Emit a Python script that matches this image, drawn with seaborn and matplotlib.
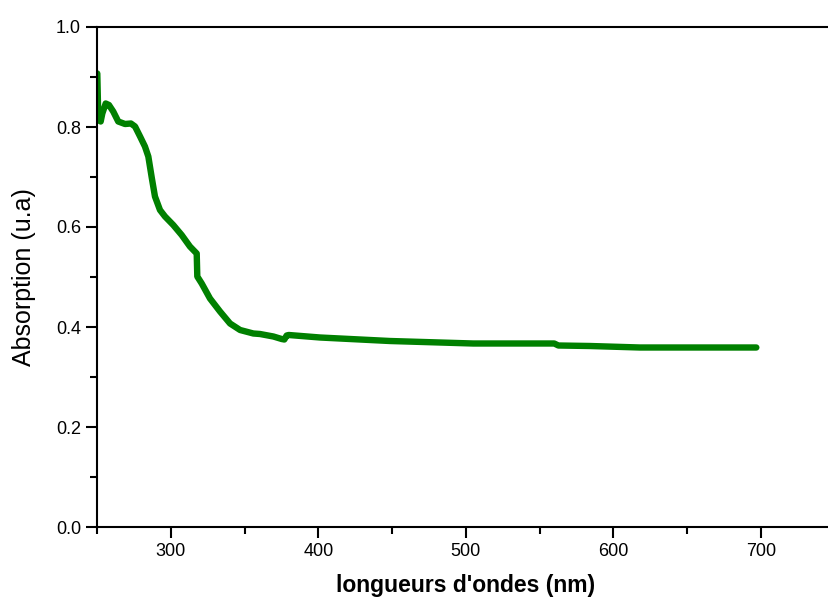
import matplotlib
matplotlib.use("Agg")
import matplotlib.pyplot as plt
import seaborn as sns
import pandas as pd
from matplotlib.ticker import MultipleLocator, FormatStrFormatter

sns.set_theme(style="ticks")
plt.rcParams['font.family'] = ['Liberation Sans', 'DejaVu Sans']

wavelength = [250.2, 250.9, 252.5, 253.6, 255.9, 258.1, 261.0, 264.4, 269.0, 273.0,
              275.8, 279.2, 282.5, 284.8, 287.1, 289.3, 292.7, 296.1, 301.7, 307.4,
              313.0, 317.6, 318.0, 321.0, 326.6, 333.4, 340.2, 347.0, 356.0, 360.5,
              369.6, 375.2, 377.0, 378.6, 380.0, 401.2, 414.7, 448.6, 482.5, 505.0,
              550.0, 560.0, 562.8, 584.2, 618.0, 660.0, 697.0]
absorption = [0.907, 0.814, 0.811, 0.827, 0.847, 0.844, 0.831, 0.811, 0.806, 0.807,
              0.801, 0.781, 0.761, 0.741, 0.699, 0.661, 0.634, 0.621, 0.604, 0.584,
              0.561, 0.547, 0.501, 0.487, 0.457, 0.431, 0.407, 0.394, 0.387, 0.386,
              0.381, 0.376, 0.375, 0.383, 0.384, 0.379, 0.377, 0.372, 0.369, 0.367,
              0.367, 0.367, 0.363, 0.362, 0.359, 0.359, 0.359]

df = pd.DataFrame({"wavelength": wavelength, "absorption": absorption})

fig = plt.figure(figsize=(8.29, 6.0), dpi=100)
ax = fig.add_axes([97 / 829, 73 / 600, 737.5 / 829, 500 / 600])

sns.lineplot(data=df, x="wavelength", y="absorption", ax=ax, color="#008000",
             linewidth=4.6, solid_capstyle="round", solid_joinstyle="round", sort=False)

ax.set_xlim(250, 750)
ax.set_ylim(0.0, 1.0)
ax.xaxis.set_major_locator(MultipleLocator(100))
ax.xaxis.set_minor_locator(MultipleLocator(50))
ax.yaxis.set_major_locator(MultipleLocator(0.2))
ax.yaxis.set_minor_locator(MultipleLocator(0.1))
ax.yaxis.set_major_formatter(FormatStrFormatter("%.1f"))

ax.tick_params(axis="both", which="major", direction="out", length=8, width=1.5,
               labelsize=13, color="black", labelcolor="black")
ax.tick_params(axis="both", which="minor", direction="out", length=5, width=1.5,
               color="black")
ax.tick_params(top=False, right=False, which="both")

for side in ["left", "bottom", "top"]:
    ax.spines[side].set_linewidth(1.5)
    ax.spines[side].set_color("black")
ax.spines["right"].set_visible(False)

ax.set_xlabel("longueurs d'ondes (nm)", fontsize=16.5, fontweight="bold",
              labelpad=10, color="black")
ax.set_ylabel("Absorption (u.a)", fontsize=18, labelpad=14, color="black")

fig.savefig("out.png", dpi=100)
